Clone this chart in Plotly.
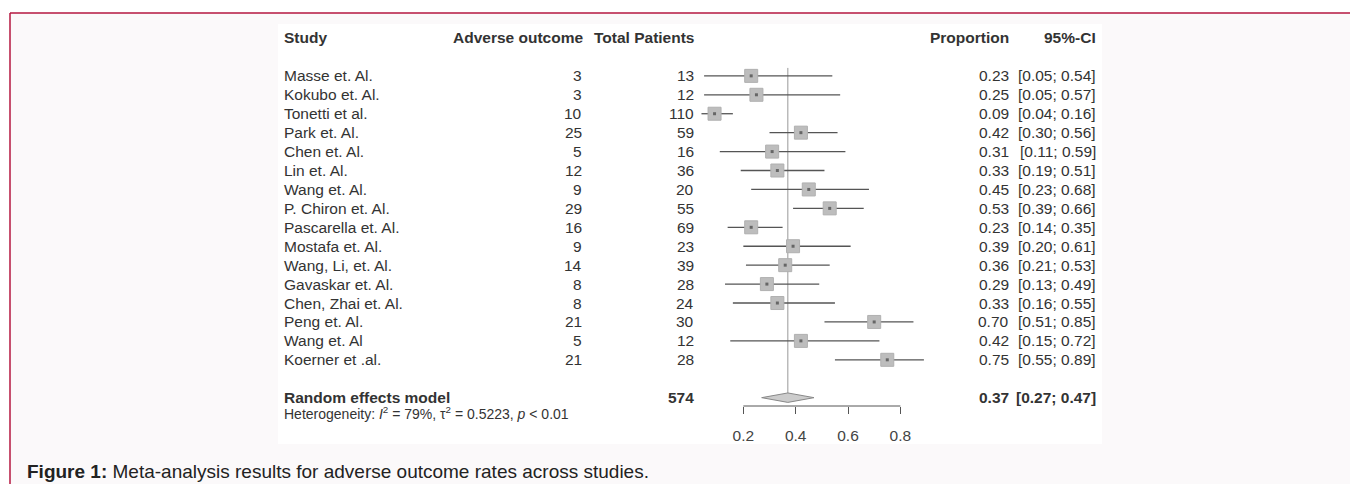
import plotly.graph_objects as go

# ---------------- data ----------------
studies = ["Masse et. Al.", "Kokubo et. Al.", "Tonetti et al.", "Park et. Al.", "Chen et. Al.",
           "Lin et. Al.", "Wang et. Al.", "P. Chiron et. Al.", "Pascarella et. Al.", "Mostafa et. Al.",
           "Wang, Li, et. Al.", "Gavaskar et. Al.", "Chen, Zhai et. Al.", "Peng et. Al.", "Wang et. Al",
           "Koerner et .al."]
events = [3, 3, 10, 25, 5, 12, 9, 29, 16, 9, 14, 8, 8, 21, 5, 21]
totals = [13, 12, 110, 59, 16, 36, 20, 55, 69, 23, 39, 28, 24, 30, 12, 28]
proportion = [0.23, 0.25, 0.09, 0.42, 0.31, 0.33, 0.45, 0.53, 0.23, 0.39, 0.36, 0.29, 0.33, 0.70, 0.42, 0.75]
ci_lower = [0.05, 0.05, 0.04, 0.30, 0.11, 0.19, 0.23, 0.39, 0.14, 0.20, 0.21, 0.13, 0.16, 0.51, 0.15, 0.55]
ci_upper = [0.54, 0.57, 0.16, 0.56, 0.59, 0.51, 0.68, 0.66, 0.35, 0.61, 0.53, 0.49, 0.55, 0.85, 0.72, 0.89]
pooled = 0.37
pooled_lower = 0.27
pooled_upper = 0.47
pooled_total = 574
tick_values = [0.2, 0.4, 0.6, 0.8]
tick_labels = ["0.2", "0.4", "0.6", "0.8"]
headers = ["Study", "Adverse outcome", "Total Patients", "Proportion", "95%-CI"]
model_label = "Random effects model"
heterogeneity = "Heterogeneity: <i>I</i><sup>2</sup> = 79%, τ<sup>2</sup> = 0.5223, <i>p</i> < 0.01"
caption_bold = "Figure 1:"
caption_text = " Meta-analysis results for adverse outcome rates across studies."

# ---------------- layout geometry (page pixels) ----------------
OFF = 8                      # page body margin around the plot div
W, H = 1358 - OFF, 484 - OFF
FONT = "Liberation Sans, Arial, sans-serif"
TXT = "#333333"
FS = 15.5

X0_PX, PX_PER_UNIT = 691.0, 261.7        # x pixel of proportion 0, pixels per unit
PLOT_L, PLOT_R = 278, 1102
ROW0_PX, ROW_PX = 38.0, 18.93            # header row pixel and row spacing
PLOT_T, PLOT_B = 24, 406

def px(x):
    return (x - OFF) / W

def py(y):
    return 1 - (y - OFF) / H

n = len(studies)
rows = [i + 2 for i in range(n)]
model_row = n + 3

fig = go.Figure()

# CI lines
cx, cy = [], []
for lo, hi, r in zip(ci_lower, ci_upper, rows):
    cx += [lo, hi, None]
    cy += [r, r, None]
fig.add_trace(go.Scatter(x=cx, y=cy, mode="lines", line=dict(color="#555555", width=1.3),
                         hoverinfo="skip", showlegend=False))
# squares
fig.add_trace(go.Scatter(x=proportion, y=rows, mode="markers",
                         marker=dict(symbol="square", size=13, color="#bdbdbd",
                                     line=dict(width=1, color="#b0b0b0")),
                         showlegend=False))
fig.add_trace(go.Scatter(x=proportion, y=rows, mode="markers",
                         marker=dict(symbol="square", size=3, color="#666666"),
                         hoverinfo="skip", showlegend=False))
# diamond
dh = 0.25
fig.add_trace(go.Scatter(x=[pooled_lower, pooled, pooled_upper, pooled, pooled_lower],
                         y=[model_row, model_row - dh, model_row, model_row + dh, model_row],
                         mode="lines", fill="toself", fillcolor="#cccccc",
                         line=dict(color="#888888", width=1), showlegend=False))

shapes = [
    dict(type="rect", xref="paper", yref="paper", x0=px(10), x1=1, y0=0, y1=py(13),
         fillcolor="#fbf9fa", line=dict(width=0), layer="below"),
    dict(type="rect", xref="paper", yref="paper", x0=px(PLOT_L), x1=px(PLOT_R), y0=py(444), y1=py(PLOT_T),
         fillcolor="white", line=dict(width=0), layer="below"),
    dict(type="line", xref="paper", yref="paper", x0=px(10), x1=1, y0=py(13), y1=py(13),
         line=dict(color="#b5163f", width=1.5)),
    dict(type="line", xref="paper", yref="paper", x0=px(10), x1=px(10), y0=0, y1=py(13),
         line=dict(color="#b5163f", width=1.5)),
    # pooled vertical line
    dict(type="line", xref="x", yref="y", x0=pooled, x1=pooled, y0=1.58, y1=model_row,
         line=dict(color="#999999", width=1), layer="below"),
    # axis line
    dict(type="line", xref="x", yref="y domain", x0=tick_values[0], x1=tick_values[-1], y0=0, y1=0,
         line=dict(color="#555555", width=1)),
]

ann = []
def text(x_px, row, s, anchor="right", bold=False, size=FS):
    ann.append(dict(x=px(x_px), y=row, xref="paper", yref="y", text=(f"<b>{s}</b>" if bold else s),
                    showarrow=False, xanchor=anchor, yanchor="middle",
                    font=dict(family=FONT, size=size, color=TXT)))

COL_STUDY, COL_EV, COL_TOT, COL_PROP, COL_CI = 282, 584, 696, 1011, 1098
text(COL_STUDY, 0, headers[0], "left", True)
text(COL_EV + 1, 0, headers[1], "right", True)
text(COL_TOT, 0, headers[2], "right", True)
text(COL_PROP, 0, headers[3], "right", True)
text(COL_CI, 0, headers[4], "right", True)

for s, e, t, p, lo, hi, r in zip(studies, events, totals, proportion, ci_lower, ci_upper, rows):
    text(COL_STUDY, r, s, "left")
    text(COL_EV, r, str(e))
    text(COL_TOT, r, str(t))
    text(COL_PROP, r, f"{p:.2f}")
    text(COL_CI, r, f"[{lo:.2f}; {hi:.2f}]")

text(COL_STUDY, model_row, model_label, "left", True)
text(COL_TOT, model_row, str(pooled_total), "right", True)
text(COL_PROP, model_row, f"{pooled:.2f}", "right", True)
text(COL_CI, model_row, f"[{pooled_lower:.2f}; {pooled_upper:.2f}]", "right", True)

ann.append(dict(x=px(COL_STUDY), y=py(413), xref="paper", yref="paper", text=heterogeneity,
                showarrow=False, xanchor="left", yanchor="middle",
                font=dict(family=FONT, size=14, color=TXT)))
ann.append(dict(x=px(25), y=py(471), xref="paper", yref="paper",
                text=f"<b>{caption_bold}</b>{caption_text}",
                showarrow=False, xanchor="left", yanchor="middle",
                font=dict(family=FONT, size=19, color="#222222")))

xmin = (PLOT_L - X0_PX) / PX_PER_UNIT
xmax = (PLOT_R - X0_PX) / PX_PER_UNIT
ymin = (PLOT_B - ROW0_PX) / ROW_PX
ymax = (PLOT_T - ROW0_PX) / ROW_PX

fig.update_layout(
    width=W, height=H, margin=dict(l=0, r=0, t=0, b=0),
    paper_bgcolor="white", plot_bgcolor="rgba(0,0,0,0)",
    shapes=shapes, annotations=ann, showlegend=False,
    xaxis=dict(domain=[px(PLOT_L), px(PLOT_R)], range=[xmin, xmax], showgrid=False, zeroline=False,
               showline=False, tickvals=tick_values, ticktext=tick_labels, ticks="outside", ticklen=7,
               tickcolor="#555555", tickwidth=1, ticklabelstandoff=8,
               tickfont=dict(family=FONT, size=FS, color="#444444"), fixedrange=True),
    yaxis=dict(domain=[py(PLOT_B), py(PLOT_T)], range=[ymin, ymax], showgrid=False, zeroline=False,
               showline=False, showticklabels=False, ticks="", fixedrange=True),
)

fig.write_html("out.html")
